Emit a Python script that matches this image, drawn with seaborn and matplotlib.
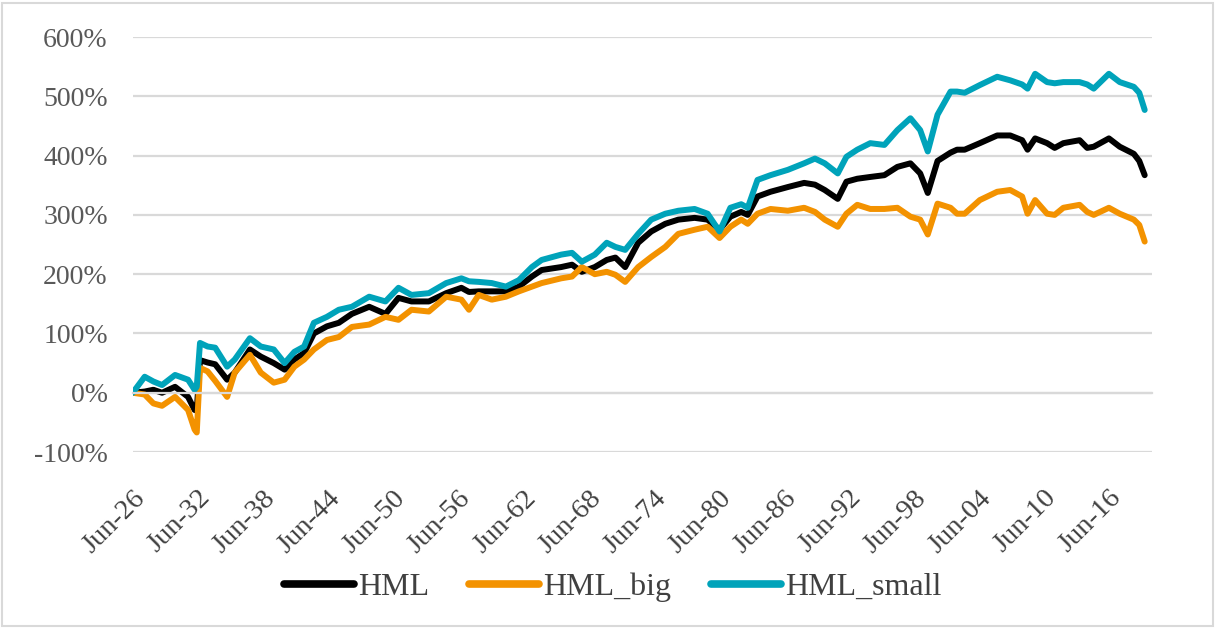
import numpy as np
import pandas as pd
import seaborn as sns
import matplotlib.pyplot as plt
from matplotlib.patches import Rectangle
from matplotlib.ticker import FuncFormatter

# decimal years (month-end readings), cumulative returns in %
years = [1926.5, 1927.6, 1928.4, 1929.2, 1930.4, 1931.6, 1932.2, 1932.4, 1932.7, 1933.4,
         1934.1, 1935.2, 1935.9, 1937.3, 1938.3, 1939.5, 1940.5, 1941.4, 1942.3, 1943.2,
         1944.4, 1945.5, 1946.7, 1948.3, 1949.8, 1951.0, 1952.2, 1953.8, 1955.4, 1956.8,
         1957.5, 1958.4, 1959.6, 1960.9, 1962.1, 1963.3, 1964.2, 1966.0, 1967.0, 1967.9,
         1969.1, 1970.2, 1971.0, 1971.9, 1973.1, 1974.3, 1975.6, 1976.8, 1978.3, 1979.5,
         1980.6, 1981.6, 1982.6, 1983.2, 1984.1, 1985.3, 1986.9, 1988.4, 1989.4, 1990.3,
         1991.5, 1992.3, 1993.3, 1994.5, 1995.8, 1997.0, 1998.2, 1999.1, 1999.8, 2000.7,
         2001.9, 2002.5, 2003.2, 2004.6, 2006.2, 2007.4, 2008.5, 2009.0, 2009.7, 2010.8,
         2011.5, 2012.3, 2013.8, 2014.5, 2015.1, 2016.5, 2017.5, 2018.8, 2019.3, 2019.8]

hml = [0, 2, 5, 0, 10, -7, -29, -30, 55, 51,
       48, 22, 34, 73, 61, 50, 39, 56, 67, 100,
       112, 118, 133, 145, 133, 160, 154, 154, 168, 177,
       170, 171, 171, 171, 179, 196, 207, 212, 216, 204,
       212, 224, 228, 212, 253, 272, 285, 292, 295, 292,
       275, 297, 305, 300, 331, 339, 347, 354, 351, 342,
       327, 356, 361, 364, 367, 381, 387, 370, 337, 391,
       405, 410, 410, 421, 434, 434, 426, 410, 429, 421,
       413, 421, 426, 413, 415, 429, 415, 403, 391, 367]

hml_big = [0, -3, -18, -22, -7, -29, -62, -67, 42, 36,
           20, -7, 34, 64, 34, 17, 22, 44, 56, 73,
           89, 94, 111, 115, 128, 123, 140, 137, 162, 157,
           140, 165, 157, 162, 171, 179, 185, 193, 196, 212,
           200, 204, 199, 187, 212, 229, 246, 268, 275, 280,
           261, 280, 292, 285, 302, 310, 307, 312, 305, 292,
           280, 302, 317, 310, 310, 312, 297, 292, 267, 319,
           312, 302, 302, 325, 339, 342, 331, 302, 325, 302,
           300, 312, 317, 305, 300, 312, 302, 292, 283, 255]

hml_small = [0, 27, 19, 13, 30, 22, 5, 10, 84, 78,
             76, 44, 56, 92, 78, 73, 50, 69, 78, 118,
             128, 140, 145, 162, 154, 177, 165, 168, 185, 193,
             188, 187, 185, 179, 190, 212, 224, 233, 236, 221,
             233, 253, 246, 241, 268, 292, 302, 307, 310, 302,
             272, 312, 318, 312, 359, 367, 376, 387, 395, 387,
             370, 398, 410, 421, 418, 443, 463, 443, 407, 469,
             508, 508, 506, 519, 533, 527, 520, 513, 538, 524,
             522, 524, 524, 520, 513, 538, 524, 516, 506, 477]

series = ['HML', 'HML_big', 'HML_small']
colors = ['#000000', '#F39200', '#00A3BA']
tick_years = [1926.5 + 6 * k for k in range(16)]
tick_labels = ['Jun-%02d' % (int(y) % 100) for y in tick_years]

df = pd.DataFrame({
    'year': years * 3,
    'value': hml + hml_big + hml_small,
    'series': np.repeat(series, len(years)),
})

sns.set_style('white')
plt.rcParams['font.family'] = ['Liberation Serif', 'DejaVu Serif']

fig = plt.figure(figsize=(12.18, 6.3), dpi=100)
ax = fig.add_axes([0.109, 0.2825, 0.8366, 0.6587])

sns.lineplot(data=df, x='year', y='value', hue='series', hue_order=series,
             palette=colors, linewidth=4.3, ax=ax, legend=False)

ax.set_xlim(1926.5, 2020.45)
ax.set_ylim(-100, 600)
ax.set_yticks(range(-100, 700, 100))
ax.yaxis.set_major_formatter(FuncFormatter(lambda v, p: '%d%%' % v))
ax.tick_params(axis='y', length=0, pad=18, labelsize=20, labelcolor='#595959')
ax.grid(axis='y', color='#d9d9d9', linewidth=1.6)
ax.grid(axis='x', visible=False)
for s in ['left', 'right', 'top']:
    ax.spines[s].set_visible(False)

# horizontal axis crosses at 0% with tick marks, labels sit at the bottom
ax.spines['bottom'].set_position(('data', 0))
ax.spines['bottom'].set_color('#d9d9d9')
ax.spines['bottom'].set_linewidth(1.6)
ax.set_xticks(tick_years)
ax.tick_params(axis='x', direction='out', length=7, width=1.6, color='#d9d9d9',
               labelbottom=False)
ax.set_xlabel('')
ax.set_ylabel('')

sec = ax.secondary_xaxis('bottom')
sec.set_xticks(tick_years, tick_labels)
sec.tick_params(length=0, pad=24, labelsize=20.5, labelcolor='#404040')
sec.spines['bottom'].set_visible(False)
for lbl in sec.get_xticklabels():
    lbl.set_rotation(45)
    lbl.set_ha('right')
    lbl.set_rotation_mode('anchor')

handles = [plt.Line2D([], [], color=c, linewidth=5.5, solid_capstyle='round') for c in colors]
fig.legend(handles, series, loc='center', bbox_to_anchor=(0.503, 0.068), ncol=3,
           frameon=False, fontsize=23, handlelength=2.2, handletextpad=0.12,
           columnspacing=1.25, labelcolor='#404040')

fig.patches.append(Rectangle((0.002, 0.006), 0.994, 0.99, transform=fig.transFigure,
                             fill=False, edgecolor='#d9d9d9', linewidth=1.5))

fig.savefig('out.png', dpi=100)
